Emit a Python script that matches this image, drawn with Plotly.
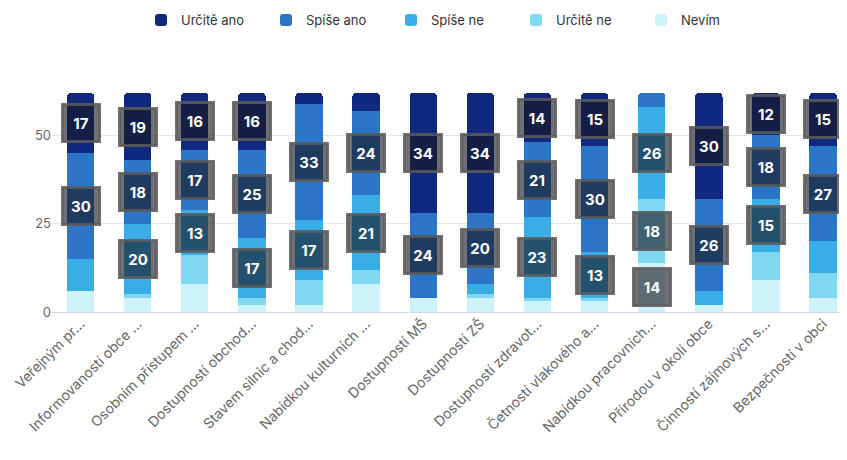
import plotly.graph_objects as go

categories = [
    "Veřejným pr...", "Informovaností obce ...", "Osobním přístupem ...",
    "Dostupností obchod...", "Stavem silnic a chod...", "Nabídkou kulturních ...",
    "Dostupností MŠ", "Dostupností ZŠ", "Dostupností zdravot...",
    "Četností vlakového a...", "Nabídkou pracovních...", "Přírodou v okolí obce",
    "Činností zájmových s...", "Bezpečností v obci",
]

nevim = [6, 4, 8, 2, 2, 8, 4, 4, 3, 3, 14, 2, 9, 4]
urcite_ne = [0, 1, 8, 2, 7, 4, 0, 1, 1, 1, 18, 0, 8, 7]
spise_ne = [9, 20, 13, 17, 17, 21, 0, 3, 23, 13, 26, 4, 15, 9]
spise_ano = [30, 18, 17, 25, 33, 24, 24, 20, 21, 30, 4, 26, 18, 27]
urcite_ano = [17, 19, 16, 16, 3, 5, 34, 34, 14, 15, 0, 30, 12, 15]

# stacked bottom -> top
series = [
    ("Nevím", nevim, "#cdf2fa"),
    ("Určitě ne", urcite_ne, "#80d7f2"),
    ("Spíše ne", spise_ne, "#38ade6"),
    ("Spíše ano", spise_ano, "#2b74c6"),
    ("Určitě ano", urcite_ano, "#10297f"),
]

FONT = "Inter, Roboto, sans-serif"

fig = go.Figure()
for name, vals, color in series:
    fig.add_trace(go.Bar(
        name=name, x=categories, y=vals,
        marker=dict(color=color, line=dict(width=0)),
        hoverinfo="name+y",
    ))

# data labels for larger segments
annotations = []
base = [0] * len(categories)
for name, vals, color in series:
    for i, v in enumerate(vals):
        if v >= 12:
            annotations.append(dict(
                x=categories[i], y=base[i] + v / 2,
                text=f"<b>{v}</b>", showarrow=False,
                font=dict(family=FONT, size=15, color="white"),
                bgcolor="rgba(24,24,32,0.62)",
                bordercolor="rgba(90,90,90,0.85)", borderwidth=3, borderpad=6,
                width=22, height=22, align="center", valign="middle",
            ))
        base[i] += v

# page body has an 8px margin, so offsets are 8px smaller than on screen
fig.update_layout(
    barmode="stack",
    bargap=0.52,
    barcornerradius=4,
    width=847, height=460,
    margin=dict(l=44, r=0, t=85, b=156, autoexpand=False),
    plot_bgcolor="white", paper_bgcolor="white",
    font=dict(family=FONT, size=12, color="#666666"),
    legend=dict(
        orientation="h", traceorder="reversed",
        x=0.5, xanchor="center", xref="paper",
        y=1.333, yref="paper", yanchor="middle",
        font=dict(family=FONT, size=13, color="#333333"),
        entrywidth=80,
    ),
    annotations=annotations,
    showlegend=True,
)
fig.update_xaxes(
    range=[-0.5, 13.56], tickangle=-45, automargin=False,
    tickfont=dict(size=14, color="#666666"),
    showline=False, ticks="",
)
fig.update_yaxes(
    range=[0, 62], tickvals=[0, 25, 50], automargin=False,
    showgrid=True, gridcolor="#e6e6e6", gridwidth=1,
    zeroline=True, zerolinecolor="#ccd6eb", zerolinewidth=1,
    tickfont=dict(size=13, color="#666666"),
    ticks="", ticklen=0,
)

fig.write_html("out.html")
